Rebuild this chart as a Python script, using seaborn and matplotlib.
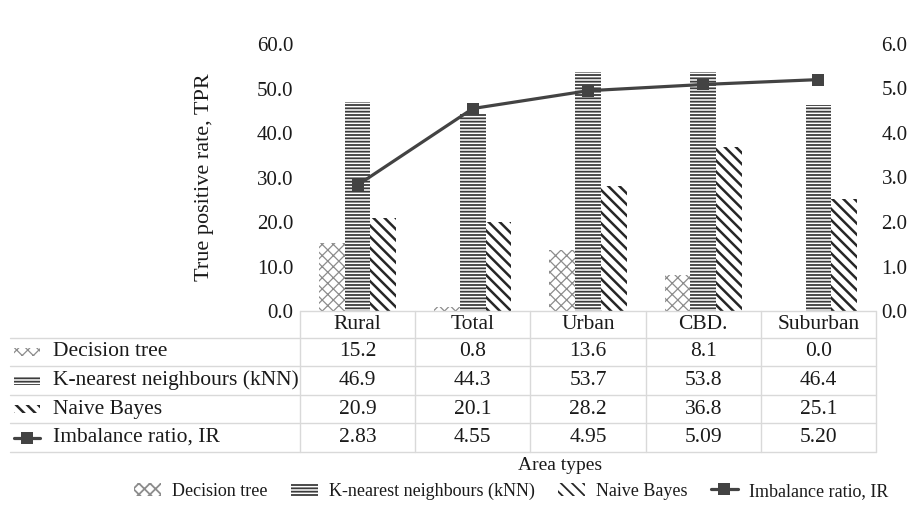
import numpy as np
import pandas as pd
import matplotlib
matplotlib.use("Agg")
import matplotlib.pyplot as plt
import matplotlib.transforms as mtransforms
from matplotlib.patches import Rectangle
from matplotlib.lines import Line2D
import seaborn as sns

# ---- data ----
areas = ["Rural", "Total", "Urban", "CBD.", "Suburban"]
decision_tree = [15.2, 0.8, 13.6, 8.1, 0.0]
knn = [46.9, 44.3, 53.7, 53.8, 46.4]
naive_bayes = [20.9, 20.1, 28.2, 36.8, 25.1]
imbalance_ratio = [2.83, 4.55, 4.95, 5.09, 5.20]
ir_labels = ["2.83", "4.55", "4.95", "5.09", "5.20"]

models = ["Decision tree", "K-nearest neighbours (kNN)", "Naive Bayes"]
model_values = [decision_tree, knn, naive_bayes]
ir_name = "Imbalance ratio, IR"

sns.set_theme(style="white")
plt.rcParams["font.family"] = ["Liberation Serif", "DejaVu Serif"]
plt.rcParams["hatch.linewidth"] = 1.3

W, H = 912, 511
fig = plt.figure(figsize=(W / 100, H / 100), dpi=100)

# axes box in pixels
ax_l, ax_r, ax_t, ax_b = 300, 876, 44, 311
ax = fig.add_axes([ax_l / W, 1 - ax_b / H, (ax_r - ax_l) / W, (ax_b - ax_t) / H])

long = pd.DataFrame({
    "area": np.tile(areas, len(models)),
    "model": np.repeat(models, len(areas)),
    "tpr": np.concatenate(model_values),
})

hatch_colors = ["#8c8c8c", "#3c3c3c", "#262626"]
hatches = ["xxx", "-----", "\\\\\\"]
hatch_widths = [0.9, 1.3, 1.8]
line_c = "#434343"
txt_c = "#1a1a1a"
fs = 15


def style_hatch(p, i):
    p.set_hatch(hatches[i])
    p.set_edgecolor(hatch_colors[i])
    p.set_facecolor("white")
    p.set_linewidth(0)
    try:
        p.set_hatch_linewidth(hatch_widths[i])
    except AttributeError:
        pass


sns.barplot(data=long, x="area", y="tpr", hue="model", order=areas,
            hue_order=models, width=0.67, gap=0.0, ax=ax, legend=False,
            palette=["white"] * 3, linewidth=0, saturation=1)

for i, cont in enumerate(ax.containers):
    for bar in cont:
        style_hatch(bar, i)

ax.set_xlim(-0.5, len(areas) - 0.5)
ax.set_ylim(0, 60)
ax.set_yticks(np.arange(0, 61, 10))
ax.set_yticklabels([f"{v:.1f}" for v in np.arange(0, 61, 10)], fontsize=fs, color=txt_c)
ax.tick_params(axis="y", length=0, pad=5)
ax.set_xticks([])
ax.set_xlabel("")
ax.set_ylabel("True positive rate, TPR", fontsize=16, color=txt_c)
ax.yaxis.set_label_coords(-(ax_l - 214) / (ax_r - ax_l), 0.5)
for s in ax.spines.values():
    s.set_visible(False)

# imbalance ratio on the secondary axis
ax2 = ax.twinx()
ir_df = pd.DataFrame({"area": np.arange(len(areas)), "ir": imbalance_ratio})
sns.lineplot(data=ir_df, x="area", y="ir", ax=ax2, color=line_c, linewidth=2.3,
             marker="s", markersize=8, markeredgewidth=0)
ax2.set_ylim(0, 6)
ax2.set_yticks(np.arange(0, 7, 1))
ax2.set_yticklabels([f"{v:.1f}" for v in np.arange(0, 7, 1)], fontsize=fs, color=txt_c)
ax2.tick_params(axis="y", length=0, pad=4)
ax2.set_ylabel("")
ax2.set_xlabel("")
ax2.set_xlim(-0.5, len(areas) - 0.5)
for s in ax2.spines.values():
    s.set_visible(False)


# ---- data table below the plot ----
def fy(py):
    return 1 - py / H


grid_c = "#d9d9d9"
row_edges = [311, 338, 366, 395, 423, 452]
blend = mtransforms.blended_transform_factory(ax.transData, fig.transFigure)

# horizontal rules
fig.add_artist(Line2D([ax_l / W, ax_r / W], [fy(311), fy(311)], color=grid_c, lw=1))
for y in row_edges[1:]:
    fig.add_artist(Line2D([10 / W, ax_r / W], [fy(y), fy(y)], color=grid_c, lw=1))
# vertical rules at the category boundaries
for i in range(len(areas) + 1):
    fig.add_artist(Line2D([i - 0.5, i - 0.5], [fy(311), fy(452)], color=grid_c, lw=1,
                          transform=blend))

row_texts = [areas,
             [f"{v:.1f}" for v in decision_tree],
             [f"{v:.1f}" for v in knn],
             [f"{v:.1f}" for v in naive_bayes],
             ir_labels]
for r, vals in enumerate(row_texts):
    yc = (row_edges[r] + row_edges[r + 1]) / 2
    for i, v in enumerate(vals):
        fig.text(i, fy(yc), v, transform=blend, ha="center", va="center",
                 fontsize=fs + 0.5, color=txt_c)

row_names = models + [ir_name]
for r, name in enumerate(row_names):
    yc = (row_edges[r + 1] + row_edges[r + 2]) / 2
    fig.text(53 / W, fy(yc), name, ha="left", va="center", fontsize=fs + 0.5, color=txt_c)
    if r < 3:
        key = Rectangle((14 / W, fy(yc + 4)), 26 / W, 8 / H, transform=fig.transFigure)
        style_hatch(key, r)
        fig.add_artist(key)
    else:
        fig.add_artist(Line2D([14 / W, 40 / W], [fy(yc), fy(yc)], color=line_c, lw=2.3,
                              transform=fig.transFigure))
        fig.add_artist(Line2D([27 / W], [fy(yc)], color=line_c, marker="s",
                              markersize=8, markeredgewidth=0, lw=0,
                              transform=fig.transFigure))

fig.text(560 / W, fy(466), "Area types", ha="center", va="center", fontsize=14, color=txt_c)

# ---- legend ----
handles = []
for i in range(3):
    h = Rectangle((0, 0), 1, 1)
    style_hatch(h, i)
    handles.append(h)
handles.append(Line2D([], [], color=line_c, lw=2.3, marker="s", markersize=8,
                      markeredgewidth=0))
fig.legend(handles, models + [ir_name], loc="center", bbox_to_anchor=(511 / W, fy(491)),
           ncol=4, frameon=False, fontsize=13, handlelength=1.5, columnspacing=1.3,
           handletextpad=0.6, labelcolor=txt_c)

fig.savefig("out.png", dpi=100)
